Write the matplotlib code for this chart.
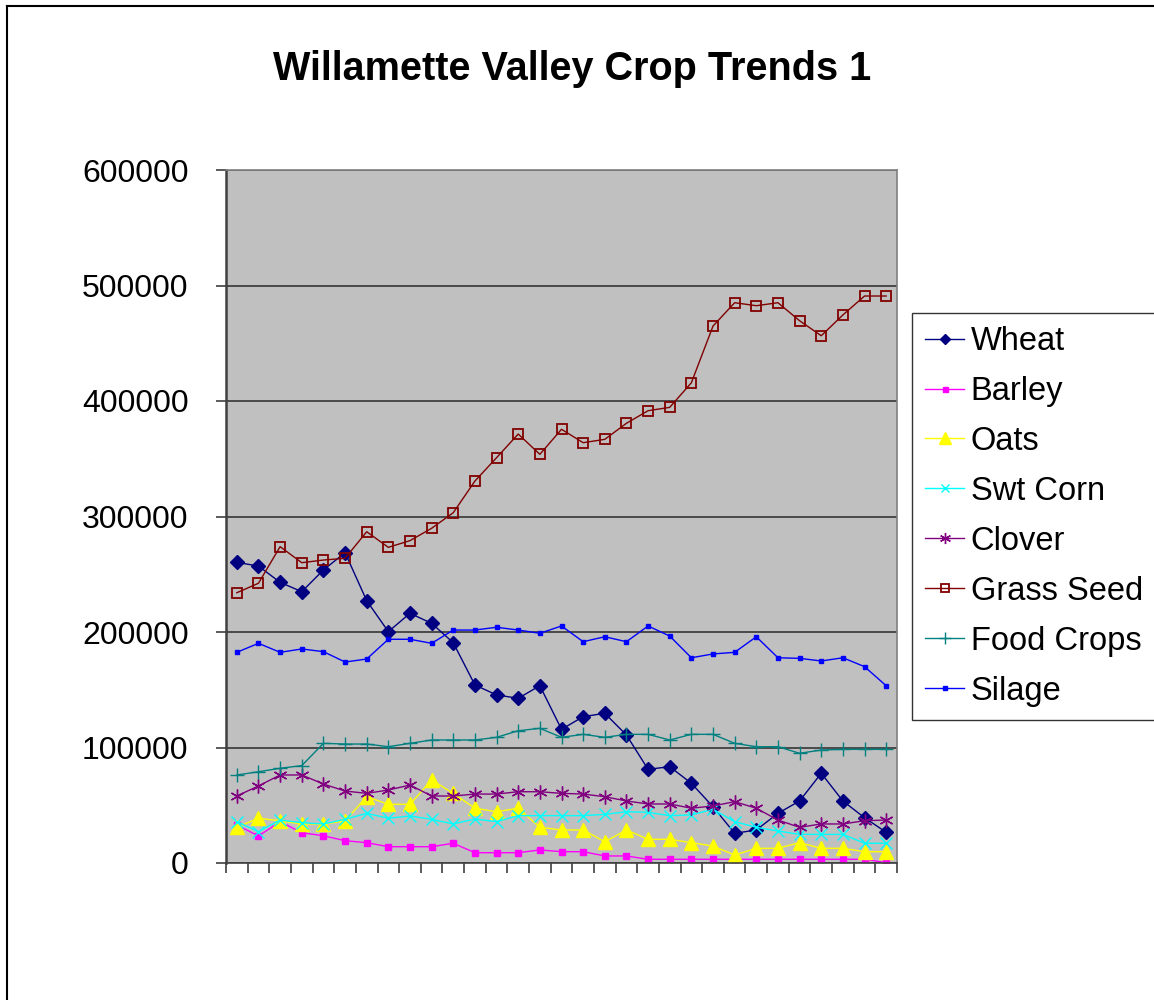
import matplotlib
matplotlib.use("Agg")
import matplotlib.pyplot as plt
from matplotlib.lines import Line2D
import numpy as np

plt.rcParams['font.family'] = ['Liberation Sans', 'DejaVu Sans']

title = "Willamette Valley Crop Trends 1"
series_names = ["Wheat", "Barley", "Oats", "Swt Corn", "Clover", "Grass Seed", "Food Crops", "Silage"]

wheat = [260300, 257100, 243000, 234900, 253700, 268700, 227100, 200300, 216200, 207500,
         190700, 154100, 145500, 142600, 153500, 115700, 126700, 129600, 110800, 81100,
         83400, 69000, 48700, 25700, 28600, 43000, 53700, 77700, 53700, 39200, 26600]
barley = [32900, 23400, 35800, 26200, 23600, 19300, 17600, 14100, 14100, 14100,
          17100, 8900, 8900, 8900, 11300, 9800, 9800, 6100, 6100, 3200,
          3200, 3200, 3200, 3200, 3200, 3200, 3200, 3200, 3200, 3200, 300]
oats = [30900, 38700, 36600, 33800, 33800, 36400, 57400, 50800, 50800, 71900,
        60300, 47400, 44400, 47400, 30900, 28600, 28600, 18400, 28600, 20500,
        20500, 17600, 14700, 6900, 12700, 12700, 17600, 12700, 12700, 9800, 9800]
swt_corn = [35800, 27100, 37200, 34900, 33800, 37800, 43000, 38700, 40700, 37800,
            33800, 38100, 35800, 41000, 41000, 41000, 41000, 42100, 44400, 43900,
            41000, 41600, 46500, 35800, 30900, 27700, 24800, 24800, 24800, 17100, 17100]
clover = [58000, 66700, 76200, 76200, 68400, 62300, 60300, 63200, 67500, 58000,
          58000, 59700, 59700, 61700, 61700, 60300, 59700, 57400, 53700, 51100,
          51100, 47400, 49400, 53100, 47400, 37200, 30900, 33800, 33800, 36600, 37200]
grass_seed = [234000, 242200, 273900, 260000, 262300, 263800, 286800, 273300, 279100, 289800,
              303300, 330700, 350900, 371400, 353800, 375500, 363900, 366800, 380700, 391600,
              394500, 415800, 464900, 485100, 482500, 485100, 469500, 456500, 474500, 490900, 490900]
food_crops = [76200, 79000, 82000, 84300, 103600, 103000, 103000, 100700, 103600, 106500,
              106500, 106500, 108800, 114500, 116600, 108800, 111400, 108800, 111400, 111400,
              106500, 111400, 111400, 103600, 100700, 100700, 95000, 97800, 98400, 98400, 98400]
silage = [182400, 190200, 182400, 185300, 183000, 174000, 176600, 193700, 193700, 190200,
          201700, 201700, 204100, 201700, 198900, 205200, 191600, 195900, 191600, 205200,
          196500, 177700, 181000, 182400, 195900, 177700, 177200, 174900, 177700, 170000, 153500]
y_ticks = [0, 100000, 200000, 300000, 400000, 500000, 600000]

W, H = 1154, 1000
fig = plt.figure(figsize=(W / 100, H / 100), dpi=100)
fig.patch.set_facecolor('white')

ax = fig.add_axes([226 / W, 1 - 863 / H, (897 - 226) / W, (863 - 170) / H])
ax.set_facecolor('#C0C0C0')

x = np.arange(len(wheat))
styles = [
    (wheat, dict(color='#000080', marker='D', ms=7, mfc='#000080', mec='#000080')),
    (barley, dict(color='#FF00FF', marker='s', ms=4.5, mfc='#FF00FF', mec='#FF00FF')),
    (oats, dict(color='#FFFF00', marker='^', ms=10, mfc='#FFFF00', mec='#FFFF00')),
    (swt_corn, dict(color='#00FFFF', marker='x', ms=8, mew=1.0, mec='#00FFFF')),
    (clover, dict(color='#800080', marker=(6, 2, 0), ms=10, mew=1.0, mec='#800080')),
    (grass_seed, dict(color='#800000', marker='s', ms=7, mfc='none', mec='#800000', mew=1.3)),
    (food_crops, dict(color='#008080', marker='+', ms=10, mew=1.0, mec='#008080')),
    (silage, dict(color='#0000FF', marker='s', ms=3.5, mfc='#0000FF', mec='#0000FF')),
]
handles = []
for (vals, st), name in zip(styles, series_names):
    h, = ax.plot(x, vals, lw=1.0, label=name, **st)
    handles.append(h)

ax.set_xlim(-0.5, len(wheat) - 0.5)
ax.set_ylim(0, 600000)
ax.set_yticks(y_ticks)
ax.set_yticklabels([str(v) for v in y_ticks], fontsize=23)
ax.set_xticks(np.arange(-0.5, len(wheat), 1.0))
ax.set_xticklabels([])
ax.tick_params(axis='both', direction='out', length=7, width=1.2, color='#404040')
ax.tick_params(axis='y', pad=20)
ax.yaxis.grid(True, color='#404040', lw=1.3)
ax.set_axisbelow(True)
for s in ['top', 'right', 'bottom']:
    ax.spines[s].set_color('#808080')
    ax.spines[s].set_linewidth(1.2)
ax.spines['left'].set_color('#404040')
ax.spines['left'].set_linewidth(1.8)
ax.spines['bottom'].set_color('#404040')

fig.text(572 / W, 1 - 69 / H, title, ha='center', va='center', fontsize=28.5, fontweight='bold')

leg = fig.legend(handles=handles, loc='upper left', bbox_to_anchor=(912 / W, 1 - 313 / H),
                 fontsize=23.5, frameon=True, fancybox=False, edgecolor='black',
                 handlelength=1.2, handletextpad=0.2, labelspacing=0.58, borderpad=0.4,
                 borderaxespad=0, markerscale=0.8)
leg.get_frame().set_linewidth(1.0)

fig.add_artist(Line2D([7 / W, 1], [1 - 6 / H, 1 - 6 / H], transform=fig.transFigure, color='black', lw=1.5))
fig.add_artist(Line2D([7 / W, 7 / W], [0, 1 - 6 / H], transform=fig.transFigure, color='black', lw=1.5))

fig.savefig('out.png', dpi=100, facecolor='white')
